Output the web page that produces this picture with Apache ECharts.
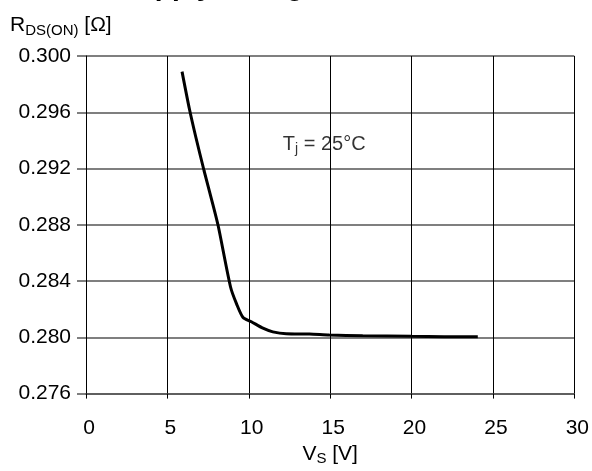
<!DOCTYPE html>
<html>
<head>
<meta charset="utf-8">
<script src="https://cdn.jsdelivr.net/npm/echarts@6/dist/echarts.min.js"></script>
<style>
html,body{margin:0;padding:0;background:#fff;}
#chart{width:592px;height:471px;}
</style>
</head>
<body>
<div id="chart"></div>
<script>
// Supply voltage V_S [V]
const vsValues = [5.90, 6.35, 6.76, 7.25, 7.72, 8.12, 8.88, 9.25, 9.65, 10.16, 10.87, 11.48, 12.30, 13.73, 14.95, 17.0, 19.97, 22.0, 24.07];
// On-state resistance R_DS(ON) [Ohm]
const rdsValues = [0.29889, 0.29625, 0.29417, 0.29186, 0.28978, 0.28793, 0.28358, 0.28238, 0.28141, 0.28111, 0.28065, 0.28039, 0.28025, 0.28023, 0.28016, 0.28011, 0.28007, 0.28005, 0.28004];
// Axis ticks
const xTicks = [0, 5, 10, 15, 20, 25, 30];
const yTicks = [0.276, 0.280, 0.284, 0.288, 0.292, 0.296, 0.300];
// Annotation
const annotation = { text: 'T_j = 25°C', x: 12.09, y: 0.29369 };
const titleText = 'Supply Voltage';

const FONT = '"Liberation Sans", Arial, sans-serif';
const chart = echarts.init(document.getElementById('chart'), null, { renderer: 'canvas' });

const option = {
  animation: false,
  backgroundColor: '#ffffff',
  grid: { left: 86, right: 16, top: 56, bottom: 69, containLabel: false },
  graphic: [
    {
      type: 'text', left: 119, top: -27,
      style: { text: titleText, font: 'bold 28px ' + FONT, fill: '#000' }
    },
    {
      type: 'text', left: 10, top: 15,
      style: {
        text: '{a|R}{s|DS(ON)}{a| [Ω]}',
        rich: {
          a: { fontSize: 21, fontFamily: FONT, fill: '#000', color: '#000' },
          s: { fontSize: 15, fontFamily: FONT, fill: '#000', color: '#000', padding: [10, 0, 0, 0] }
        }
      }
    }
  ],
  xAxis: {
    type: 'value',
    min: xTicks[0], max: xTicks[xTicks.length - 1], interval: 5,
    name: '{a|V}{s|S}{a| [V]}',
    nameLocation: 'middle', nameGap: 46,
    nameTextStyle: {
      rich: {
        a: { fontSize: 21, fontFamily: FONT, color: '#000' },
        s: { fontSize: 15, fontFamily: FONT, color: '#000', padding: [9, 0, 0, 0] }
      }
    },
    axisLine: { show: true, lineStyle: { color: '#555', width: 1.5 } },
    axisTick: { show: true, inside: false, length: 5, lineStyle: { color: '#000', width: 1 } },
    axisLabel: { fontSize: 21, fontFamily: FONT, color: '#000', margin: 24, padding: [0, 0, 0, 6] },
    splitLine: { show: true, lineStyle: { color: '#000', width: 1 } }
  },
  yAxis: {
    type: 'value',
    min: yTicks[0], max: yTicks[yTicks.length - 1], interval: 0.004,
    axisLine: { show: true, lineStyle: { color: '#000', width: 1 } },
    axisTick: { show: true, inside: false, length: 9, lineStyle: { color: '#555', width: 1.5 } },
    axisLabel: { fontSize: 21, fontFamily: FONT, color: '#000', margin: 15, formatter: v => v.toFixed(3) },
    splitLine: { show: true, lineStyle: { color: '#555', width: 1.5 } }
  },
  series: [
    {
      type: 'line',
      data: vsValues.map((v, i) => [v, rdsValues[i]]),
      showSymbol: false,
      smooth: 0.25,
      lineStyle: { color: '#000', width: 3 },
      z: 5
    },
    {
      type: 'scatter',
      data: [[annotation.x, annotation.y]],
      symbolSize: 0,
      label: {
        show: true, position: 'right', distance: 0,
        formatter: '{a|T}{s|j}{a| = 25°C}',
        rich: {
          a: { fontSize: 20, fontFamily: FONT, color: '#000' },
          s: { fontSize: 14, fontFamily: FONT, color: '#000', padding: [9, 0, 0, 0] }
        }
      },
      z: 6
    }
  ]
};
chart.setOption(option);
</script>
</body>
</html>
